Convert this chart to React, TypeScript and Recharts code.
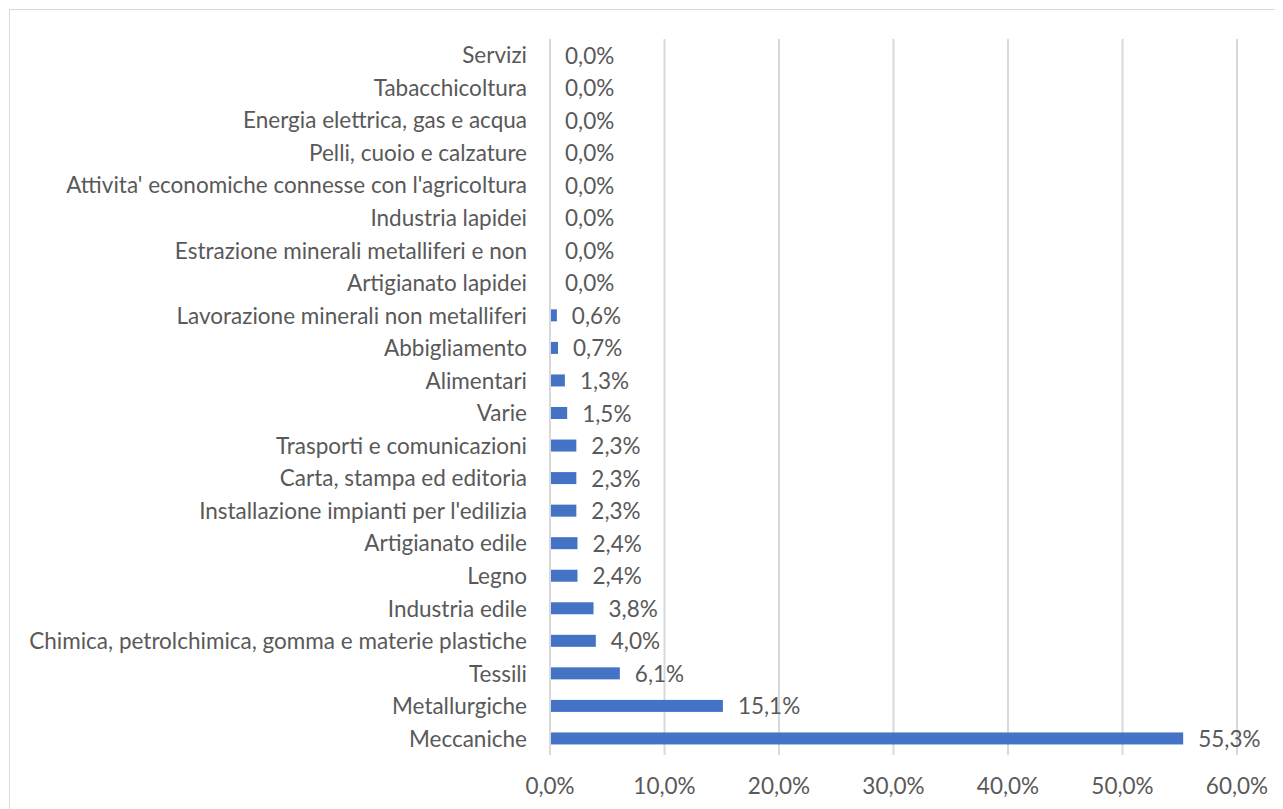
import { BarChart, Bar, XAxis, YAxis, CartesianGrid } from "recharts";

const categories = [
  "Servizi",
  "Tabacchicoltura",
  "Energia elettrica, gas e acqua",
  "Pelli, cuoio e calzature",
  "Attivita' economiche connesse con l'agricoltura",
  "Industria lapidei",
  "Estrazione minerali metalliferi e non",
  "Artigianato lapidei",
  "Lavorazione minerali non metalliferi",
  "Abbigliamento",
  "Alimentari",
  "Varie",
  "Trasporti e comunicazioni",
  "Carta, stampa ed editoria",
  "Installazione impianti per l'edilizia",
  "Artigianato edile",
  "Legno",
  "Industria edile",
  "Chimica, petrolchimica, gomma e materie plastiche",
  "Tessili",
  "Metallurgiche",
  "Meccaniche",
];

const shares = [
  0, 0, 0, 0, 0, 0, 0, 0, 0.6, 0.7, 1.3, 1.5, 2.3, 2.3, 2.3, 2.4, 2.4, 3.8, 4.0,
  6.1, 15.1, 55.3,
];

const xTicks = [0, 10, 20, 30, 40, 50, 60];

const data = categories.map((name, i) => ({ name, value: shares[i] }));

const fmt = (v: number) => v.toFixed(1).replace(".", ",") + "%";

const font = "Lato, sans-serif";
const textColor = "#595959";
const fontSize = 22.5;
const barColor = "#4472C4";

// bar + value label in one shape, so the 0,0% rows still get their label
const BarWithLabel = (props: any) => {
  const { x, y, width, height, value } = props;
  const w = Math.max(0, Number(width) || 0);
  const v = Array.isArray(value) ? value[1] - value[0] : Number(value);
  return (
    <g>
      {w > 0 && <rect x={x} y={y} width={w} height={height} fill={barColor} />}
      <text
        x={Number(x) + w + 15}
        y={Number(y) + Number(height) / 2}
        dy="0.38em"
        fill={textColor}
        fontSize={fontSize}
        fontFamily={font}
      >
        {fmt(v)}
      </text>
    </g>
  );
};

export default function App() {
  return (
    <div
      style={{
        marginLeft: 1,
        marginTop: 1,
        width: 1290,
        height: 820,
        border: "1px solid #d9d9d9",
        fontFamily: font,
      }}
    >
      <BarChart
        width={1290}
        height={800}
        data={data}
        layout="vertical"
        margin={{ top: 29, right: 63, bottom: 0, left: 0 }}
        barCategoryGap={0}
      >
        <CartesianGrid horizontal={false} stroke="#d9d9d9" strokeWidth={2} />
        <XAxis
          type="number"
          domain={[0, 60]}
          ticks={xTicks}
          tickFormatter={fmt}
          axisLine={false}
          tickLine={false}
          tickMargin={17}
          height={55}
          tick={{ fill: textColor, fontSize, fontFamily: font }}
        />
        <YAxis
          type="category"
          dataKey="name"
          width={540}
          interval={0}
          axisLine={{ stroke: "#d9d9d9", strokeWidth: 2 }}
          tickLine={false}
          tickMargin={17}
          tick={{ fill: textColor, fontSize, fontFamily: font }}
        />
        <Bar
          dataKey="value"
          fill={barColor}
          barSize={12}
          isAnimationActive={false}
          shape={BarWithLabel}
        />
      </BarChart>
    </div>
  );
}
